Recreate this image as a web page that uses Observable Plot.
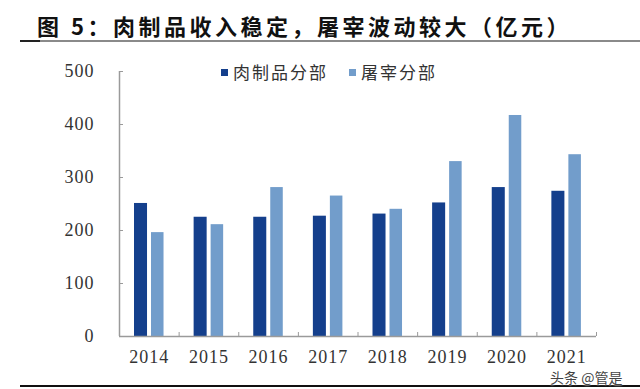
<!DOCTYPE html>
<html>
<head>
<meta charset="utf-8">
<script src="https://cdn.jsdelivr.net/npm/d3@7"></script>
<script src="https://cdn.jsdelivr.net/npm/@observablehq/plot@0.6"></script>
<style>
  body { margin: 0; background: #fff; }
  #wrap { position: relative; width: 640px; height: 389px; overflow: hidden; font-family: "Noto Sans CJK SC", sans-serif; }
  #title { position: absolute; left: 37px; top: 10px; font-size: 22px; line-height: 30px; font-weight: bold; letter-spacing: 3.5px; color: #111; white-space: nowrap; }
  #rule1 { position: absolute; left: 20px; top: 40px; width: 620px; height: 2px; background: #8a8a8a; }
  #rule1 .endL { position: absolute; left: 0; top: 0; width: 20px; height: 2px; background: #222; }
  #chart { position: absolute; left: 0; top: 44px; }
  #chart text { letter-spacing: 1px; }
  #legend { position: absolute; left: 221px; top: 61px; display: flex; align-items: center; font-size: 17px; line-height: 22px; letter-spacing: 2px; color: #333; white-space: nowrap; }
  #legend .sw { display: inline-block; width: 7px; height: 7px; margin-right: 5px; }
  #legend .item { display: flex; align-items: center; margin-right: 21px; }
  #rule2 { position: absolute; left: 20px; top: 385px; width: 620px; height: 2px; background: #111; }
  #mark { position: absolute; left: 550px; top: 370px; font-size: 14px; line-height: 14px; color: #444; text-shadow: 0 0 2px #fff, 0 0 2px #fff; white-space: nowrap; }
</style>
</head>
<body>
<div id="wrap">
  <div id="title">图 5：肉制品收入稳定，屠宰波动较大（亿元）</div>
  <div id="rule1"><div class="endL"></div></div>
  <div id="chart"></div>
  <div id="legend"></div>
  <div id="rule2"></div>
  <div id="mark">头条 @管是</div>
</div>
<script>
const years = [2014, 2015, 2016, 2017, 2018, 2019, 2020, 2021];
const meat = [251, 225, 225, 227, 231, 252, 281, 274];
const slaughter = [196, 211, 281, 265, 240, 330, 417, 343];
const seriesNames = ["肉制品分部", "屠宰分部"];
const seriesColors = ["#143f8c", "#729dcb"];
const yTicks = [0, 100, 200, 300, 400, 500];

const data = years.map((y, i) => ({year: y, meat: meat[i], slaughter: slaughter[i]}));
const boundaries = [...years.map(y => y - 0.5), years[years.length - 1] + 0.5];
const axisColor = "#9a9a9a";

const chart = Plot.plot({
  width: 640,
  height: 345,
  marginLeft: 119,
  marginRight: 44,
  marginTop: 27,
  marginBottom: 53,
  x: {domain: [years[0] - 0.5, years[years.length - 1] + 0.5]},
  y: {domain: [0, 500]},
  style: {fontFamily: "Liberation Serif", fontSize: "18px", color: "#333", background: "transparent"},
  marks: [
    Plot.rectY(data, {x1: d => d.year - 0.5, x2: d => d.year + 0.5, y1: 0, y2: "meat", fill: seriesColors[0], insetLeft: 15, insetRight: 31.6}),
    Plot.rectY(data, {x1: d => d.year - 0.5, x2: d => d.year + 0.5, y1: 0, y2: "slaughter", fill: seriesColors[1], insetLeft: 32, insetRight: 15.1}),
    Plot.ruleY([0], {stroke: axisColor, strokeWidth: 1.5}),
    Plot.ruleX([years[0] - 0.5], {y1: 0, y2: 500, stroke: axisColor, strokeWidth: 1.5}),
    Plot.axisX(boundaries, {tickSize: -4, text: null, stroke: axisColor, label: null}),
    Plot.axisX(years, {tickSize: 0, tickPadding: 14, tickFormat: d => String(d), label: null}),
    Plot.axisY(yTicks, {tickSize: -4, text: null, stroke: axisColor, label: null}),
    Plot.axisY(yTicks, {tickSize: 0, tickPadding: 25, label: null})
  ]
});
document.getElementById("chart").appendChild(chart);

const legend = document.getElementById("legend");
seriesNames.forEach((name, i) => {
  const item = document.createElement("span");
  item.className = "item";
  const sw = document.createElement("span");
  sw.className = "sw";
  sw.style.background = seriesColors[i];
  item.appendChild(sw);
  item.appendChild(document.createTextNode(name));
  legend.appendChild(item);
});
</script>
</body>
</html>
